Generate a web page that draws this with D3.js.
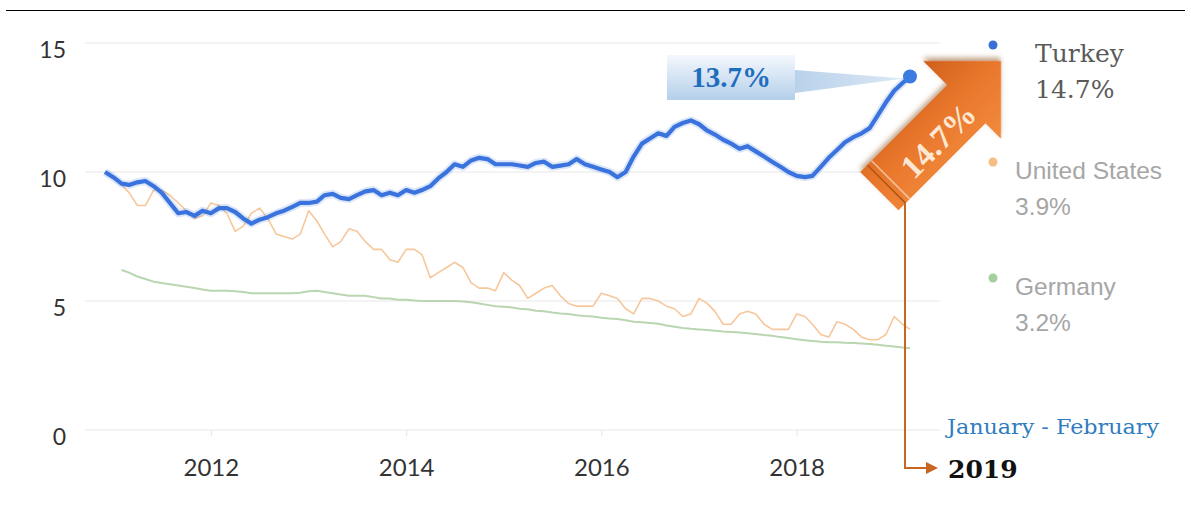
<!DOCTYPE html>
<html>
<head>
<meta charset="utf-8">
<script src="https://cdn.jsdelivr.net/npm/d3@7"></script>
<style>
  body { margin: 0; background: #fff; }
  svg { display: block; }
  .axis text { font-family: Lato, "Open Sans", sans-serif; fill: #333; }
  .axis .domain { display: none; }
  .grid line { stroke: #efefef; stroke-width: 1.5; }
</style>
</head>
<body>
<svg id="chart" width="1191" height="511"></svg>
<script>
// monthly unemployment rate, %
const turkeyStart = "2010-12";
const turkey = [
  10.0, 9.8, 9.55, 9.5, 9.6, 9.65, 9.45, 9.2, 8.8, 8.4,
  8.45, 8.3, 8.5, 8.4, 8.6, 8.6, 8.45, 8.2, 8.0, 8.15,
  8.25, 8.4, 8.5, 8.65, 8.8, 8.8, 8.85, 9.1, 9.15, 9.0,
  8.95, 9.1, 9.25, 9.3, 9.1, 9.2, 9.1, 9.3, 9.2, 9.3,
  9.45, 9.75, 10.0, 10.3, 10.2, 10.45, 10.55, 10.5, 10.3, 10.3,
  10.3, 10.25, 10.2, 10.35, 10.4, 10.2, 10.25, 10.3, 10.5, 10.3,
  10.2, 10.1, 10.0, 9.8, 10.0, 10.6, 11.1, 11.3, 11.5, 11.4,
  11.75, 11.9, 12.0, 11.85, 11.6, 11.45, 11.25, 11.1, 10.9, 11.0,
  10.8, 10.6, 10.4, 10.2, 10.0, 9.85, 9.8, 9.85, 10.2, 10.55,
  10.85, 11.15, 11.35, 11.5, 11.7, 12.2, 12.7, 13.15, 13.45, 13.7
];

const usStart = "2011-01";
const unitedStates = [
  9.8, 9.5, 9.2, 8.7, 8.7, 9.3, 9.3, 9.1, 8.8, 8.5, 8.2, 8.3,
  8.8, 8.7, 8.4, 7.7, 7.9, 8.4, 8.6, 8.2, 7.6, 7.5, 7.4, 7.6,
  8.5, 8.1, 7.6, 7.1, 7.3, 7.8, 7.7, 7.3, 7.0, 7.0, 6.6, 6.5,
  7.0, 7.0, 6.8, 5.9, 6.1, 6.3, 6.5, 6.3, 5.7, 5.5, 5.5, 5.4,
  6.1, 5.8, 5.6, 5.1, 5.3, 5.5, 5.6, 5.2, 4.9, 4.8, 4.8, 4.8,
  5.3, 5.2, 5.1, 4.7, 4.5, 5.1, 5.1, 5.0, 4.8, 4.7, 4.4, 4.5,
  5.1, 4.9, 4.6, 4.1, 4.1, 4.5, 4.6, 4.5, 4.1, 3.9, 3.9, 3.9,
  4.5, 4.4, 4.1, 3.7, 3.6, 4.2, 4.1, 3.9, 3.6, 3.5, 3.5, 3.7,
  4.4, 4.1, 3.9
];

const germanyStart = "2011-02";
const germany = [
  6.2, 6.1, 5.95, 5.85, 5.75, 5.7, 5.65, 5.6, 5.55, 5.5,
  5.45, 5.4, 5.4, 5.4, 5.38, 5.35, 5.3, 5.3, 5.3, 5.3,
  5.3, 5.3, 5.32, 5.38, 5.4, 5.35, 5.3, 5.25, 5.2, 5.2,
  5.2, 5.15, 5.1, 5.1, 5.05, 5.05, 5.02, 5.0, 5.0, 5.0,
  5.0, 5.0, 4.98, 4.95, 4.9, 4.85, 4.8, 4.78, 4.75, 4.7,
  4.68, 4.62, 4.6, 4.55, 4.52, 4.5, 4.45, 4.42, 4.4, 4.35,
  4.32, 4.3, 4.25, 4.2, 4.18, 4.15, 4.12, 4.05, 4.0, 3.95,
  3.92, 3.9, 3.88, 3.85, 3.82, 3.8, 3.78, 3.75, 3.72, 3.68,
  3.65, 3.6, 3.57, 3.52, 3.48, 3.45, 3.42, 3.4, 3.4, 3.38,
  3.37, 3.35, 3.33, 3.3, 3.27, 3.24, 3.2, 3.17
];

const seriesNames = ["Turkey", "United States", "Germany"];
const legendValues = ["14.7%", "3.9%", "3.2%"];
const yTicks = [0, 5, 10, 15];
const xTickYears = [2012, 2014, 2016, 2018];
const calloutText = "13.7%";
const arrowText = "14.7%";
const periodText = "January - February";
const yearText = "2019";

const parseMonth = d3.timeParse("%Y-%m");
function toPoints(start, values) {
  const first = parseMonth(start);
  return values.map((v, i) => ({ date: d3.timeMonth.offset(first, i), value: v }));
}
const series = [
  { name: "Turkey", color: "#3a73de", width: 4.2, points: toPoints(turkeyStart, turkey) },
  { name: "United States", color: "#f7c79c", width: 1.6, points: toPoints(usStart, unitedStates) },
  { name: "Germany", color: "#b9d6b1", width: 2, points: toPoints(germanyStart, germany) }
];

const svg = d3.select("#chart");
const defs = svg.append("defs");

// thin rule across the top of the picture
svg.append("line").attr("x1", 6).attr("x2", 1185).attr("y1", 10.5).attr("y2", 10.5)
  .attr("stroke", "#000").attr("stroke-width", 1);

const xScale = d3.scaleTime()
  .domain([parseMonth("2010-12"), parseMonth("2019-03")])
  .range([105, 910]);
const yScale = d3.scaleLinear().domain([0, 15]).range([430, 43]);

// grid
svg.append("g").attr("class", "grid")
  .selectAll("line").data(yTicks).join("line")
  .attr("x1", 85).attr("x2", 940)
  .attr("y1", d => yScale(d)).attr("y2", d => yScale(d));

// axes
const xAxis = svg.append("g").attr("class", "axis")
  .attr("transform", "translate(0," + yScale(0) + ")")
  .call(d3.axisBottom(xScale)
    .tickValues(xTickYears.map(y => new Date(y, 0, 1)))
    .tickFormat(d3.timeFormat("%Y"))
    .tickSize(6).tickPadding(23));
xAxis.selectAll(".tick line").attr("stroke", "#e6e6e6");
xAxis.selectAll("text").style("font-size", "24px");

const yAxis = svg.append("g").attr("class", "axis")
  .attr("transform", "translate(66,0)")
  .call(d3.axisLeft(yScale).tickValues(yTicks).tickSize(0).tickPadding(0));
yAxis.selectAll("text").attr("dy", "0.65em").style("font-size", "23px");

// lines, drawn back to front
const line = d3.line()
  .x(d => xScale(d.date))
  .y(d => yScale(d.value));

series.slice().reverse().forEach(s => {
  if (s.name === "Turkey") {
    svg.append("path").datum(s.points)
      .attr("fill", "none").attr("stroke", s.color).attr("stroke-opacity", 0.18)
      .attr("stroke-width", 8).attr("stroke-linejoin", "round").attr("d", line);
  }
  svg.append("path").datum(s.points)
    .attr("fill", "none").attr("stroke", s.color)
    .attr("stroke-width", s.width).attr("stroke-linejoin", "round")
    .attr("d", line);
});

// end point of Turkey + callout
const last = series[0].points[series[0].points.length - 1];
const lx = xScale(last.date), ly = yScale(last.value);

const boxGrad = defs.append("linearGradient").attr("id", "boxGrad")
  .attr("x1", 0).attr("y1", 0).attr("x2", 0).attr("y2", 1);
boxGrad.append("stop").attr("offset", "0%").attr("stop-color", "#f4f8fd");
boxGrad.append("stop").attr("offset", "100%").attr("stop-color", "#b4cfea");

const wedgeGrad = defs.append("linearGradient").attr("id", "wedgeGrad")
  .attr("x1", 0).attr("y1", 0).attr("x2", 1).attr("y2", 0);
wedgeGrad.append("stop").attr("offset", "0%").attr("stop-color", "#b9d2ea");
wedgeGrad.append("stop").attr("offset", "100%").attr("stop-color", "#dbe8f5");

svg.append("path")
  .attr("d", `M795,70 L795,93 L${lx - 6},${ly + 2} Z`)
  .attr("fill", "url(#wedgeGrad)");
svg.append("rect").attr("x", 667).attr("y", 55).attr("width", 128).attr("height", 45)
  .attr("fill", "url(#boxGrad)");
svg.append("text").attr("x", 731).attr("y", 87)
  .attr("text-anchor", "middle")
  .style("font-family", "'Liberation Serif', serif").style("font-weight", "bold")
  .style("font-size", "29px").attr("fill", "#1f6dbd")
  .text(calloutText);

svg.append("circle").attr("cx", lx).attr("cy", ly).attr("r", 7).attr("fill", "#3b7be2");

// orange pointer from the arrow down to the year
svg.append("path")
  .attr("d", "M905,200 L905,468 L928,468")
  .attr("fill", "none").attr("stroke", "#c8661f").attr("stroke-width", 2);
svg.append("path").attr("d", "M938,468 L926,462 L926,474 Z").attr("fill", "#c8661f");

// big orange arrow
const shadow = defs.append("filter").attr("id", "shadow")
  .attr("x", "-30%").attr("y", "-30%").attr("width", "160%").attr("height", "160%");
shadow.append("feDropShadow").attr("dx", -2).attr("dy", 3).attr("stdDeviation", 2.5)
  .attr("flood-color", "#7a3a0c").attr("flood-opacity", 0.45);

const arrowGrad = defs.append("linearGradient").attr("id", "arrowGrad")
  .attr("x1", 0).attr("y1", 0).attr("x2", 0).attr("y2", 1);
arrowGrad.append("stop").attr("offset", "0%").attr("stop-color", "#f28b3e");
arrowGrad.append("stop").attr("offset", "55%").attr("stop-color", "#e8762b");
arrowGrad.append("stop").attr("offset", "100%").attr("stop-color", "#cf5f1d");

// local x runs from the tip back to the tail
const arrow = svg.append("g").attr("transform", "translate(1001,61) rotate(135)");
const headLen = 55, headHalf = 55, shaftTop = -33, shaftBottom = 21, tail = 178;
arrow.append("path")
  .attr("d", `M0,0 L${headLen},${-headHalf} L${headLen},${shaftTop} L${tail},${shaftTop}
              L${tail},${shaftBottom} L${headLen},${shaftBottom} L${headLen},${headHalf} Z`)
  .attr("fill", "url(#arrowGrad)")
  .attr("filter", "url(#shadow)");
[tail - 16, tail - 10].forEach((x, i) => {
  arrow.append("line").attr("x1", x).attr("x2", x).attr("y1", shaftTop).attr("y2", shaftBottom)
    .attr("stroke", i ? "#b0560f" : "#f3c29c").attr("stroke-width", 1.5);
});

svg.append("text")
  .attr("transform", "translate(938,140) rotate(-45)")
  .attr("text-anchor", "middle").attr("dy", "0.35em")
  .style("font-family", "'Liberation Serif', serif").style("font-weight", "bold")
  .style("font-size", "33px").attr("fill", "#fde8d4")
  .text(arrowText);

// legend
const legendY = [45, 162, 278];
const legendDot = ["#3b6fd8", "#f6bd84", "#a6cf9f"];
seriesNames.forEach((name, i) => {
  svg.append("circle").attr("cx", 993).attr("cy", legendY[i]).attr("r", 4.5).attr("fill", legendDot[i]);
  const isTurkey = i === 0;
  const tx = isTurkey ? 1035 : 1015;
  const t = svg.append("text")
    .style("font-family", isTurkey ? "'DejaVu Serif', serif" : "'Liberation Sans', Arial, sans-serif")
    .style("font-size", isTurkey ? "25px" : "24.5px")
    .attr("fill", isTurkey ? "#5a5a5a" : "#a6a6a6");
  t.append("tspan").attr("x", tx).attr("y", legendY[i] + 17).text(name);
  t.append("tspan").attr("x", tx).attr("y", legendY[i] + 53).text(legendValues[i]);
});

// period note
svg.append("text").attr("x", 947).attr("y", 434)
  .attr("textLength", 212).attr("lengthAdjust", "spacingAndGlyphs")
  .style("font-family", "'DejaVu Serif', serif").style("font-size", "21px")
  .attr("fill", "#2f7dc0").text(periodText);
svg.append("text").attr("x", 948).attr("y", 478)
  .style("font-family", "'DejaVu Serif', serif").style("font-weight", "bold")
  .style("font-size", "25px").attr("fill", "#111").text(yearText);
</script>
</body>
</html>
